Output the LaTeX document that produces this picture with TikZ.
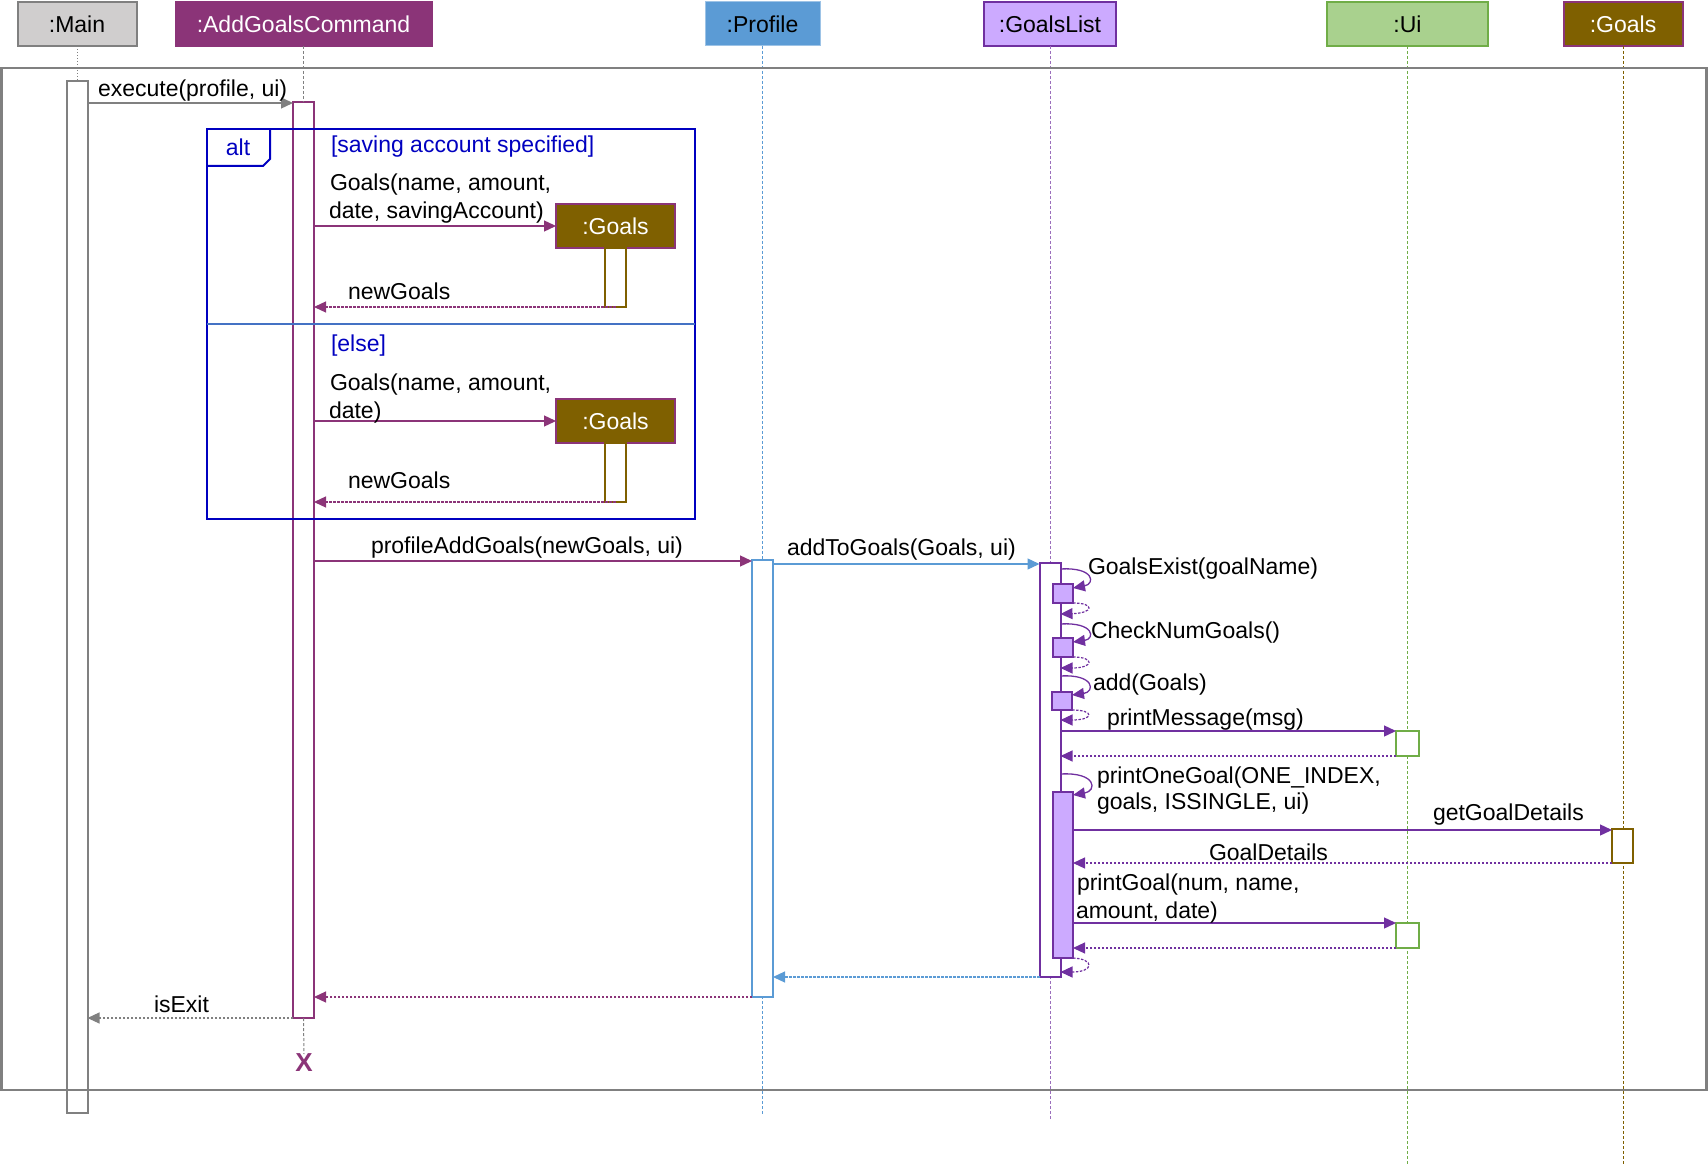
\documentclass[tikz,border=0pt]{standalone}
\usepackage{fontspec}
\setmainfont{Liberation Sans}
\usetikzlibrary{arrows.meta}
\definecolor{cmdc}{RGB}{139,52,120}
\definecolor{mainfill}{RGB}{208,206,206}
\definecolor{greyc}{RGB}{128,128,128}
\definecolor{proff}{RGB}{91,155,213}
\definecolor{profl}{RGB}{157,195,230}
\definecolor{glf}{RGB}{204,170,255}
\definecolor{glc}{RGB}{112,48,160}
\definecolor{uif}{RGB}{169,209,142}
\definecolor{uic}{RGB}{112,173,71}
\definecolor{goalf}{RGB}{127,96,0}
\definecolor{altc}{RGB}{0,0,192}
\definecolor{divc}{RGB}{68,114,196}
\begin{document}
\begin{tikzpicture}[x=1pt,y=-1pt,
  every node/.style={font=\fontsize{23}{27}\selectfont, inner sep=0pt, outer sep=0pt},
  hdr/.style={draw, line width=2pt, minimum height=44pt},
  act/.style={draw, line width=2pt, fill=white, minimum width=21pt, anchor=north},
  sub/.style={draw=glc, line width=2pt, fill=glf, minimum width=20pt, anchor=north},
  lbl/.style={anchor=base west},
  tip/.style={-{Triangle[length=12pt,width=11pt]}},
  msg/.style={tip, line width=1.3pt},
  ret/.style={tip, line width=1.2pt, dash pattern=on 2.5pt off 1.5pt},
  life/.style={line width=1pt, dash pattern=on 3pt off 2pt},
]
\useasboundingbox (0,0) rectangle (1708,1166);

% headers
\node[hdr, fill=mainfill, draw=greyc, minimum width=119pt] (mainH) at (77,24) {:Main};
\node[hdr, fill=cmdc, draw=cmdc, text=white, minimum width=256pt] (cmdH) at (303.5,24) {:AddGoalsCommand};
\node[hdr, fill=proff, draw=profl, line width=1pt, minimum width=115pt] (profH) at (762.5,24) {:Profile};
\node[hdr, fill=glf, draw=glc, minimum width=132pt] (glH) at (1050,24) {:GoalsList};
\node[hdr, fill=uif, draw=uic, minimum width=161pt] (uiH) at (1407.5,24) {:Ui};
\node[hdr, fill=goalf, draw=cmdc, text=white, minimum width=119pt] (goalsH) at (1623,24) {:Goals};

% lifeline end points
\coordinate (profEnd) at (762.5,1115);
\coordinate (glEnd) at (1050,1119);
\coordinate (uiEnd) at (1407.5,1166);
\coordinate (goalsEnd) at (1623,1166);
\node[text=cmdc, font=\fontsize{26}{26}\selectfont\bfseries] (xmark) at (304,1063) {X};

% lifelines
\draw[life, glc!70] (glH.south) -- (glEnd);
\draw[life, proff] (profH.south) -- (profEnd);
\draw[life, uic] (uiH.south) -- (uiEnd);
\draw[life, goalf] (goalsH.south) -- (goalsEnd);

% activations
\node[act, draw=greyc, minimum height=1032pt] (mainA) at (77,81) {};
\node[act, draw=cmdc, minimum height=916pt] (cmdA) at (303.5,102) {};
\node[act, draw=proff, minimum height=437pt] (profA) at (762.5,560) {};
\node[act, draw=glc, minimum height=414pt] (glA) at (1050,563) {};
\node[sub, minimum height=19pt] (s1) at (1063,584) {};
\node[sub, minimum height=19pt] (s2) at (1063,638) {};
\node[sub, minimum height=18pt] (s3) at (1062,692) {};
\node[sub, minimum height=166pt] (s4) at (1063,792) {};
\node[act, draw=uic, minimum width=23pt, minimum height=25pt] (uiA1) at (1407.5,731) {};
\node[act, draw=uic, minimum width=23pt, minimum height=25pt] (uiA2) at (1407.5,923) {};
\node[act, draw=goalf, minimum height=34pt] (gdA) at (1622.5,829) {};

\draw[life, greyc, dash pattern=on 1.5pt off 1.5pt] (mainA.north |- mainH.south) -- (mainA.north);
\draw[life, greyc] (cmdH.south) -- (cmdA.north);
\draw[life, greyc] (cmdA.south) -- (xmark.north);

% frame
\draw[greyc, line width=2.5pt] (1.5,68) rectangle (1706.5,1090);

% alt fragment
\draw[altc, line width=2pt] (207,129) rectangle (695,519);
\draw[altc, line width=2pt] (207,166) -- (263,166) -- (270,159) -- (270,129);
\draw[divc, line width=1.2pt] (207,324) -- (695,324);
\node[lbl, anchor=base, text=altc] (altL) at (238,156) {alt};
\node[lbl, text=altc] (g1L) at (331,153) {[saving account specified]};
\node[lbl, text=altc] (g2L) at (331,351) {[else]};

\node[hdr, fill=goalf, draw=cmdc, text=white, minimum width=119pt] (g1) at (615.5,226) {:Goals};
\node[act, draw=goalf, minimum height=59pt] (g1A) at (g1.south) {};
\node[hdr, fill=goalf, draw=cmdc, text=white, minimum width=119pt] (g2) at (615.5,421) {:Goals};
\node[act, draw=goalf, minimum height=59pt] (g2A) at (g2.south) {};

% messages
\draw[msg, greyc] (mainA.east |- 0,103) -- (cmdA.west |- 0,103);
\node[lbl] (lExec) at (98,97) {execute(profile, ui)};

\draw[msg, cmdc] (cmdA.east |- g1.west) -- (g1.west);
\node[lbl] (lNew1a) at (330,191) {Goals(name, amount,};
\node[lbl] (lNew1b) at (329,219) {date, savingAccount)};
\draw[ret, cmdc] (g1A.south) -- (cmdA.east |- g1A.south);
\node[lbl] (lRet1) at (348,300) {newGoals};

\draw[msg, cmdc] (cmdA.east |- g2.west) -- (g2.west);
\node[lbl] (lNew2a) at (330,390) {Goals(name, amount,};
\node[lbl] (lNew2b) at (329,418) {date)};
\draw[ret, cmdc] (g2A.south) -- (cmdA.east |- g2A.south);
\node[lbl] (lRet2) at (348,488) {newGoals};

\draw[msg, cmdc] (cmdA.east |- 0,561) -- (profA.west |- 0,561);
\node[lbl] (lPAG) at (371,553) {profileAddGoals(newGoals, ui)};

\draw[msg, proff] (profA.east |- 0,564) -- (glA.west |- 0,564);
\node[lbl] (lATG) at (787,555) {addToGoals(Goals, ui)};

% self calls
\draw[glc, msg] (glA.east |- 0,569) .. controls (1095,567) and (1095,584) .. (s1.east |- 0,588);
\draw[glc, ret] (s1.south east) .. controls (1095,603) and (1094,613) .. (glA.east |- 0,614);
\node[lbl] (lGE) at (1088,574) {GoalsExist(goalName)};

\draw[glc, msg] (glA.east |- 0,624) .. controls (1095,622) and (1095,639) .. (s2.east |- 0,642);
\draw[glc, ret] (s2.south east) .. controls (1095,657) and (1094,668) .. (glA.east |- 0,668);
\node[lbl] (lCNG) at (1091,638) {CheckNumGoals()};

\draw[glc, msg] (glA.east |- 0,676) .. controls (1095,674) and (1095,692) .. (s3.east |- 0,695);
\draw[glc, ret] (s3.south east) .. controls (1095,710) and (1094,720) .. (glA.east |- 0,720);
\node[lbl] (lAdd) at (1093,690) {add(Goals)};

\draw[msg, glc] (glA.east |- 0,731) -- (uiA1.west |- 0,731);
\node[lbl] (lPM) at (1107,725) {printMessage(msg)};
\draw[ret, glc] (uiA1.south west) -- (glA.east |- uiA1.south);

\draw[glc, msg] (glA.east |- 0,774) .. controls (1097,772) and (1097,791) .. (s4.east |- 0,795);
\node[lbl] (lPOGa) at (1097,783) {printOneGoal(ONE\_INDEX,};
\node[lbl] (lPOGb) at (1097,809) {goals, ISSINGLE, ui)};

\draw[msg, glc] (s4.east |- 0,830) -- (gdA.west |- 0,830);
\node[lbl] (lGGD) at (1433,820) {getGoalDetails};
\draw[ret, glc] (gdA.south west) -- (s4.east |- gdA.south);
\node[lbl] (lGD) at (1209,860) {GoalDetails};

\draw[msg, glc] (s4.east |- 0,923) -- (uiA2.west |- 0,923);
\node[lbl] (lPGa) at (1077,890) {printGoal(num, name,};
\node[lbl] (lPGb) at (1076,918) {amount, date)};
\draw[ret, glc] (uiA2.south west) -- (s4.east |- uiA2.south);

\draw[glc, ret] (s4.south east) .. controls (1095,959) and (1094,972) .. (glA.east |- 0,972);

% returns
\draw[ret, proff] (glA.south west) -- (profA.east |- glA.south);
\draw[ret, cmdc] (profA.south west) -- (cmdA.east |- profA.south);
\draw[ret, greyc] (cmdA.south west) -- (mainA.east |- cmdA.south);
\node[lbl] (lExit) at (154,1012) {isExit};
\end{tikzpicture}
\end{document}
